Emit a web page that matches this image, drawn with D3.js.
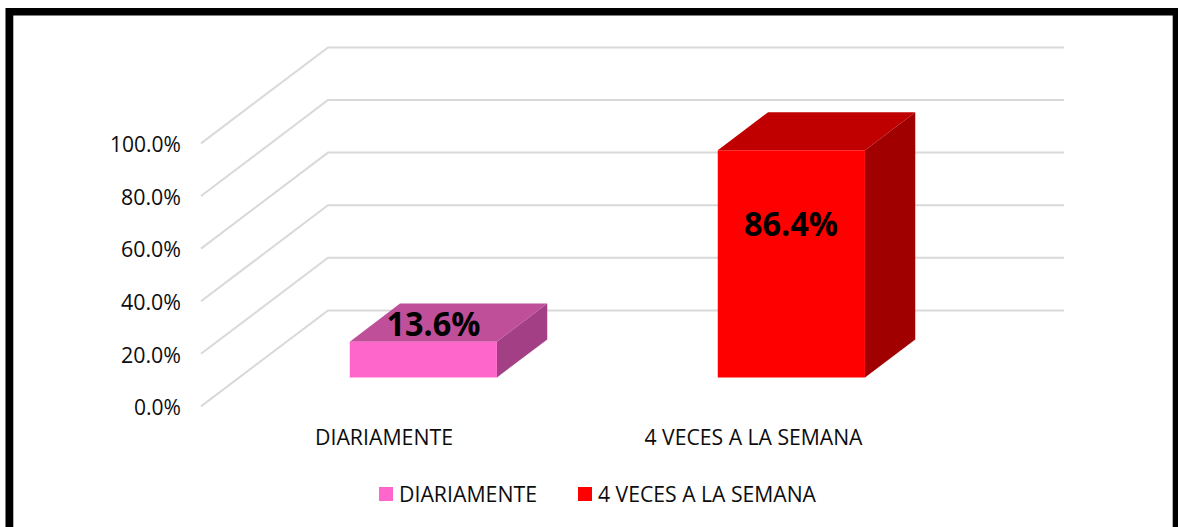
<!DOCTYPE html>
<html><head><meta charset="utf-8">
<script src="https://cdn.jsdelivr.net/npm/d3@7"></script>
<style>html,body{margin:0;padding:0;background:#fff}svg{display:block}</style>
</head><body><svg id="c" width="1178" height="527"></svg>
<script>
const categories = ["DIARIAMENTE", "4 VECES A LA SEMANA"];
const values = [13.6, 86.4];
const valueLabels = ["13.6%", "86.4%"];
const yTicks = [0, 20, 40, 60, 80, 100];
const frontColors = ["#FF66CC", "#FF0000"];
const topColors = ["#C04F9A", "#C00000"];
const sideColors = ["#A34085", "#A00000"];

const FONT = "'Open Sans', sans-serif";
const svg = d3.select("#c");

// frame
svg.append("path").attr("fill", "#000")
  .attr("d", "M5.5 527V8H1178V527H1172.7V15.5H13.3V527Z");

const y = d3.scaleLinear().domain([0, 100]).range([406.4, 143.4]);
const x = d3.scaleBand().domain(categories).range([201, 937]).paddingInner(0.6).paddingOuter(0.3);
// oblique depth axis: 0 = front of floor, 1 = back wall
const depthX = d3.scaleLinear().domain([0, 1]).range([0, 127]);
const depthY = d3.scaleLinear().domain([0, 1]).range([0, -96]);
const P = (px, v, d) => [px + depthX(d), y(v) + depthY(d)];
const line = d3.line();

// gridlines
const grid = svg.append("g");
yTicks.forEach(t => {
  grid.append("path").attr("fill", "none").attr("stroke", "#D9D9D9").attr("stroke-width", 2)
    .attr("d", line([P(201, t, 0), P(201, t, 1), P(937, t, 1)]));
});

// bars
const d0 = 0.302, d1 = 0.698;
categories.forEach((c, i) => {
  const a = x(c), b = a + x.bandwidth(), v = values[i];
  const g = svg.append("g");
  g.append("path").attr("fill", topColors[i]).attr("d", line([P(a, v, d0), P(a, v, d1), P(b, v, d1), P(b, v, d0)]) + "Z");
  g.append("path").attr("fill", sideColors[i]).attr("d", line([P(b, 0, d0), P(b, v, d0), P(b, v, d1), P(b, 0, d1)]) + "Z");
  g.append("path").attr("fill", frontColors[i]).attr("d", line([P(a, 0, d0), P(a, v, d0), P(b, v, d0), P(b, 0, d0)]) + "Z");
});

function fit(sel, w) {
  sel.attr("textLength", w).attr("lengthAdjust", "spacingAndGlyphs");
}

// y axis
const axis = svg.append("g").attr("transform", "translate(181,0)")
  .call(d3.axisLeft(y).tickValues(yTicks).tickSize(0).tickPadding(0).tickFormat(d => d.toFixed(1) + "%"));
axis.select(".domain").remove();
axis.selectAll("text")
  .attr("font-family", FONT).attr("font-size", 21).attr("fill", "#0d0d0d")
  .attr("dy", null).attr("y", 8.2)
  .each(function (d) { fit(d3.select(this), d === 100 ? 71 : d === 0 ? 47 : 60); });

// category labels
const catWidths = [138, 218];
const catOffsets = [-1, 0.5];
categories.forEach((c, i) => {
  svg.append("text").text(c).attr("x", x(c) + x.bandwidth() / 2 + catOffsets[i]).attr("y", 445)
    .attr("text-anchor", "middle").attr("font-family", FONT).attr("font-size", 21).attr("fill", "#0d0d0d")
    .call(fit, catWidths[i]);
});

// value labels
const labelX = [433.5, 791];
const labelY = [335.5, 235.5];
valueLabels.forEach((t, i) => {
  svg.append("text").text(t).attr("x", labelX[i]).attr("y", labelY[i])
    .attr("text-anchor", "middle").attr("font-family", FONT).attr("font-weight", 700)
    .attr("font-size", 34).attr("fill", "#000").call(fit, 94);
});

// legend
const legX = [379, 578], legTextX = [399, 598];
categories.forEach((c, i) => {
  svg.append("rect").attr("x", legX[i]).attr("y", 487).attr("width", 14).attr("height", 14).attr("fill", frontColors[i]);
  svg.append("text").text(c).attr("x", legTextX[i]).attr("y", 502)
    .attr("font-family", FONT).attr("font-size", 21).attr("fill", "#0d0d0d")
    .call(fit, catWidths[i]);
});
</script></body></html>
